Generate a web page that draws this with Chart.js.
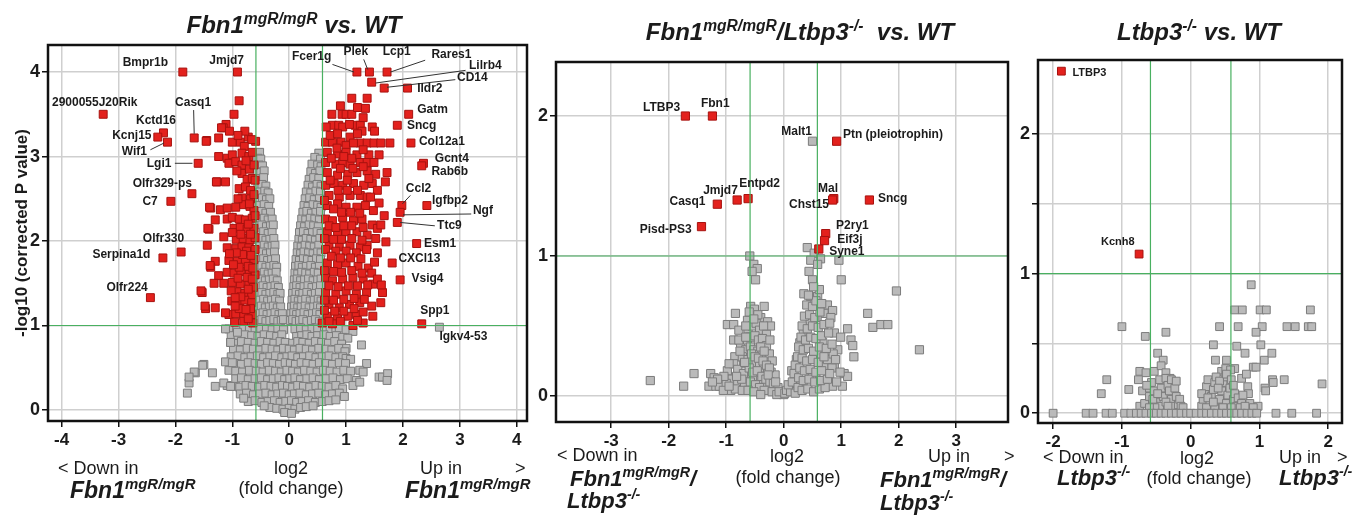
<!DOCTYPE html>
<html>
<head>
<meta charset="utf-8">
<script src="https://cdn.jsdelivr.net/npm/chart.js@4.4.1/dist/chart.umd.min.js"></script>
<style>
  body { margin: 0; background: #fff; }
  #wrap { position: relative; width: 1360px; height: 517px; overflow: hidden;
          font-family: "Liberation Sans", Arial, sans-serif; color: #1b1b1b; }
  canvas { position: absolute; top: 0; }
  .t { position: absolute; white-space: nowrap; line-height: 1; }
  .c { transform: translateX(-50%); }
  .title { font-size: 24px; font-weight: bold; font-style: italic; }
  .cap { font-size: 18px; }
  .gene { font-size: 22px; font-weight: bold; font-style: italic; }
  .big { font-size: 23px; }
  sup { font-size: 0.65em; vertical-align: 0.6em; line-height: 0; }
</style>
</head>
<body>
<div id="wrap">
  <canvas id="c1" width="540" height="460" style="left:0px"></canvas>
  <canvas id="c2" width="520" height="460" style="left:500px"></canvas>
  <canvas id="c3" width="360" height="460" style="left:1000px"></canvas>

  <div class="t c title" style="left:294px; top:13px">Fbn1<sup>mgR/mgR</sup> vs. WT</div>
  <div class="t c title" style="left:800px; top:20px">Fbn1<sup>mgR/mgR</sup>/Ltbp3<sup>-/-</sup>&nbsp; vs. WT</div>
  <div class="t c title" style="left:1199px; top:20px">Ltbp3<sup>-/-</sup> vs. WT</div>

  <!-- panel 1 captions -->
  <div class="t cap" style="left:58px; top:459px">&lt; Down in</div>
  <div class="t gene big" style="left:70px; top:479px">Fbn1<sup>mgR/mgR</sup></div>
  <div class="t c cap" style="left:291px; top:459px">log2</div>
  <div class="t c cap" style="left:291px; top:479px">(fold change)</div>
  <div class="t cap" style="left:420px; top:459px">Up in</div>
  <div class="t cap" style="left:515px; top:459px">&gt;</div>
  <div class="t gene big" style="left:405px; top:479px">Fbn1<sup>mgR/mgR</sup></div>

  <!-- panel 2 captions -->
  <div class="t cap" style="left:557px; top:446px">&lt; Down in</div>
  <div class="t gene" style="left:570px; top:468px">Fbn1<sup>mgR/mgR</sup>/</div>
  <div class="t gene" style="left:567px; top:490px">Ltbp3<sup>-/-</sup></div>
  <div class="t c cap" style="left:787px; top:447px">log2</div>
  <div class="t c cap" style="left:788px; top:468px">(fold change)</div>
  <div class="t cap" style="left:928px; top:447px">Up in</div>
  <div class="t cap" style="left:1004px; top:447px">&gt;</div>
  <div class="t gene" style="left:880px; top:469px">Fbn1<sup>mgR/mgR</sup>/</div>
  <div class="t gene" style="left:880px; top:492px">Ltbp3<sup>-/-</sup></div>

  <!-- panel 3 captions -->
  <div class="t cap" style="left:1043px; top:448px">&lt; Down in</div>
  <div class="t gene" style="left:1057px; top:467px">Ltbp3<sup>-/-</sup></div>
  <div class="t c cap" style="left:1197px; top:449px">log2</div>
  <div class="t c cap" style="left:1199px; top:469px">(fold change)</div>
  <div class="t cap" style="left:1279px; top:448px">Up in</div>
  <div class="t cap" style="left:1337px; top:448px">&gt;</div>
  <div class="t gene" style="left:1279px; top:467px">Ltbp3<sup>-/-</sup></div>
</div>

<script>
"use strict";

// thresholds: |log2 FC| > 0.585 (1.5 fold) and -log10 P > 1
const FC_CUT = 0.585;
const P_CUT = 1;

// ---------- panel 1: Fbn1 mgR/mgR vs WT ----------
const xTicks1 = [-4, -3, -2, -1, 0, 1, 2, 3, 4];
const yTicks1 = [0, 1, 2, 3, 4];

const red1 = [
  [-1.87,4.0],[-0.91,4.0],[-3.27,3.5],[-1.67,3.22],[-2.21,3.28],[-2.31,3.23],[-2.14,3.17],[-1.6,2.92],
  [-1.71,2.56],[-2.08,2.47],[-1.9,1.87],[-2.22,1.8],[-2.44,1.33],
  [1.19,4.0],[1.41,4.0],[1.72,4.0],[1.45,3.88],[1.67,3.81],[2.08,3.81],[2.1,3.5],[1.9,3.37],[2.14,3.16],
  [2.36,2.92],[2.33,2.89],[1.98,2.42],[2.42,2.42],[1.95,2.34],[1.9,2.22],[2.24,1.97],[1.81,1.74],
  [1.95,1.54],[2.33,1.02],
  // down-regulated cloud
  [-0.88,3.66],[-0.97,3.5],[-1.11,3.38],[-1.16,3.34],[-1.45,3.19],[-1.24,3.22],[-1.0,3.17],[-0.86,3.17],
  [-0.72,3.23],[-0.59,3.18],[-0.66,3.2],[-0.79,3.12],[-1.24,3.0],[-1.09,2.98],[-1.0,3.02],[-0.83,3.04],
  [-0.71,3.0],[-1.06,2.92],[-0.94,2.94],[-0.83,2.9],[-0.83,2.8],[-1.27,2.7],[-1.12,2.7],[-0.74,2.73],
  [-0.65,2.74],[-0.6,2.72],[-0.88,2.62],[-0.77,2.64],[-0.68,2.6],[-0.83,2.51],[-0.68,2.5],[-0.62,2.55],
  [-1.38,2.39],[-1.21,2.37],[-1.09,2.39],[-0.94,2.4],[-0.8,2.43],[-0.69,2.41],[-0.62,2.36],[-1.09,2.26],
  [-1.0,2.28],[-0.88,2.26],[-0.77,2.25],[-0.65,2.27],[-0.6,2.3],[-1.41,2.14],[-0.97,2.15],[-0.86,2.16],
  [-0.74,2.14],[-0.62,2.15],[-0.93,2.02],[-0.81,2.03],[-0.69,2.01],[-0.6,2.04],[-1.44,1.95],[-1.09,1.92],
  [-0.94,1.91],[-0.83,1.93],[-0.71,1.92],[-0.6,1.9],[-1.3,1.76],[-1.06,1.77],[-0.91,1.76],[-0.77,1.75],
  [-0.62,1.78],[-1.38,1.69],[-1.24,1.59],[-1.09,1.63],[-0.97,1.62],[-0.85,1.64],[-0.7,1.63],[-0.6,1.6],
  [-1.32,1.5],[-1.15,1.5],[-1.0,1.51],[-0.86,1.49],[-0.71,1.5],[-0.63,1.45],[-1.53,1.39],[-0.92,1.4],
  [-0.78,1.38],[-0.66,1.36],[-1.47,1.2],[-1.3,1.21],[-1.01,1.29],[-0.87,1.28],[-0.78,1.3],[-0.66,1.27],
  [-1.06,1.13],[-0.94,1.14],[-0.8,1.12],[-0.65,1.13],[-0.96,1.04],[-0.8,1.05],[-0.64,1.03],[-0.72,1.08],
  [-0.88,1.2],[-1.12,1.15],[-1.4,2.4],[-1.43,2.15],[-1.28,2.7],[-1.19,3.34],[-1.46,3.18],[-1.39,1.71],
  [-1.55,1.41],[-1.48,1.23],[-0.75,1.88],[-0.67,1.83],[-0.82,1.84],[-0.93,1.86],[-0.72,1.7],[-0.88,1.69],
  [-0.64,1.68],[-0.98,1.72],[-0.7,2.85],[-0.62,2.9],[-0.76,2.95],[-0.92,2.83],[-0.72,2.2],[-0.85,2.08],
  [-0.68,2.08],[-1.0,2.1],[-0.74,1.57],[-0.9,1.56],[-0.65,1.55],[-1.02,1.41],[-0.72,1.43],[-0.85,1.34],
  [-0.95,1.33],[-0.68,1.2],[-0.76,1.19],[-0.95,1.23],[-1.05,1.85],[-1.15,2.05],[-1.3,2.25],[-0.78,3.3],
  [-0.9,3.25],[-1.05,3.3],[-0.65,3.05],[-0.7,2.44],[-0.9,2.5],
  // up-regulated cloud
  [1.10,3.69],[1.37,3.69],[1.34,3.57],[0.75,3.5],[0.93,3.5],[1.0,3.5],[1.1,3.5],[0.76,3.37],[0.87,3.37],
  [0.94,3.35],[1.16,3.37],[1.25,3.37],[1.46,3.35],[1.5,3.3],[1.28,3.3],[1.07,3.23],[0.64,3.17],[0.76,3.17],
  [0.91,3.17],[1.0,3.13],[1.25,3.16],[1.37,3.16],[1.49,3.16],[1.61,3.16],[1.77,3.16],[1.13,3.16],
  [0.67,3.05],[0.85,3.03],[1.0,3.05],[1.19,3.02],[1.4,3.02],[1.58,3.02],[0.64,2.93],[0.82,2.91],
  [0.94,2.93],[1.07,2.91],[1.25,2.93],[1.37,2.93],[1.49,2.93],[0.67,2.81],[0.85,2.78],[1.03,2.79],
  [1.19,2.81],[1.37,2.83],[1.52,2.79],[1.72,2.81],[1.69,2.7],[0.64,2.66],[0.79,2.68],[0.94,2.66],
  [1.13,2.68],[1.31,2.66],[1.46,2.68],[0.7,2.54],[0.88,2.52],[1.07,2.54],[1.25,2.54],[1.37,2.52],
  [0.67,2.42],[0.85,2.44],[1.0,2.4],[1.19,2.4],[1.34,2.42],[1.48,2.36],[1.67,2.3],[0.64,2.26],[0.76,2.24],
  [0.94,2.28],[1.13,2.24],[1.28,2.26],[1.46,2.19],[1.55,2.15],[1.61,2.19],[0.67,2.11],[0.85,2.09],
  [1.0,2.11],[1.19,2.11],[1.37,2.07],[1.52,2.03],[1.7,1.99],[0.7,1.95],[0.88,1.93],[1.07,1.95],
  [1.25,1.93],[1.37,1.95],[0.64,1.9],[0.82,1.88],[1.0,1.88],[1.18,1.86],[1.36,1.9],[1.55,1.86],
  [0.67,1.74],[0.85,1.72],[1.0,1.74],[1.21,1.7],[1.39,1.68],[0.64,1.57],[0.76,1.53],[0.94,1.55],
  [1.12,1.57],[1.3,1.55],[1.47,1.49],[1.64,1.39],[1.61,1.27],[0.64,1.39],[0.82,1.37],[1.0,1.41],
  [1.18,1.37],[1.36,1.39],[0.7,1.25],[0.88,1.21],[1.06,1.25],[1.24,1.27],[1.45,1.23],[1.47,1.11],
  [0.67,1.11],[0.85,1.09],[1.03,1.11],[1.18,1.13],[0.58,1.03],[0.76,1.02],[1.12,1.0],[1.3,1.03],
  [0.72,3.25],[0.84,3.1],[0.96,3.0],[1.1,2.98],[1.3,3.08],[0.74,2.98],[0.9,2.86],[1.12,2.86],[1.3,2.88],
  [0.72,2.72],[0.86,2.6],[1.02,2.6],[1.2,2.6],[0.62,2.48],[0.78,2.38],[0.92,2.34],[1.08,2.34],[1.24,2.33],
  [0.7,2.18],[0.82,2.16],[0.96,2.18],[1.1,2.18],[1.3,2.16],[0.62,2.03],[0.78,2.02],[0.92,2.02],[1.1,2.03],
  [1.28,2.01],[0.74,1.82],[0.9,1.8],[1.08,1.8],[1.26,1.79],[0.62,1.65],[0.78,1.64],[0.92,1.63],[1.1,1.65],
  [1.28,1.62],[1.45,1.62],[0.7,1.47],[0.86,1.46],[1.04,1.47],[1.2,1.47],[1.38,1.48],[0.62,1.3],[0.78,1.3],
  [0.96,1.31],[1.14,1.32],[1.32,1.31],[0.62,1.18],[0.8,1.17],[0.96,1.17],[1.14,1.2],[1.3,1.16],[0.7,1.05],
  [0.9,1.05],[1.2,1.06],[0.65,3.35],[0.85,3.27],[1.2,3.27],[1.06,3.38],[0.9,3.6],[1.2,3.58],[1.3,3.46],
  [1.02,2.72],[1.4,2.74],[1.55,2.6],[1.58,2.45],[1.43,2.52],[1.5,1.75],[1.55,1.55],[1.62,1.48]
];

const gray1 = [
  [-0.52,3.05],[0.52,3.04],[-0.55,2.98],[-0.5,2.97],[0.45,2.99],[0.55,2.97],
  [-0.53,2.9],[-0.47,2.89],[0.4,2.91],[0.5,2.9],[0.56,2.88],
  [-0.56,2.82],[-0.5,2.81],[-0.44,2.83],[0.38,2.82],[0.46,2.8],[0.54,2.83],
  [-0.54,2.74],[-0.45,2.75],[0.35,2.73],[0.43,2.75],[0.52,2.74],
  [-0.55,2.66],[-0.48,2.67],[-0.41,2.65],[0.33,2.66],[0.41,2.64],[0.49,2.67],[0.56,2.65],
  [-0.52,2.58],[-0.43,2.59],[-0.37,2.57],[0.3,2.58],[0.38,2.57],[0.47,2.59],[0.55,2.58],
  [-0.56,2.5],[-0.47,2.51],[-0.4,2.49],[-0.34,2.5],[0.28,2.5],[0.36,2.51],[0.44,2.49],[0.53,2.5],
  [-0.53,2.42],[-0.44,2.43],[-0.36,2.41],[0.26,2.42],[0.33,2.41],[0.42,2.43],[0.5,2.42],[0.56,2.4],
  [-0.55,2.34],[-0.49,2.35],[-0.41,2.33],[-0.33,2.34],[0.24,2.34],[0.31,2.35],[0.39,2.33],[0.47,2.34],[0.55,2.35],
  [-0.52,2.26],[-0.44,2.27],[-0.37,2.25],[-0.3,2.26],[0.22,2.26],[0.29,2.25],[0.37,2.27],[0.45,2.26],[0.53,2.25],
  [-0.56,2.18],[-0.48,2.19],[-0.4,2.17],[-0.33,2.18],[-0.28,2.19],[0.2,2.18],[0.27,2.17],[0.35,2.19],[0.43,2.18],[0.51,2.17],
  [-0.53,2.1],[-0.45,2.11],[-0.37,2.09],[-0.3,2.1],[0.18,2.1],[0.25,2.11],[0.33,2.09],[0.41,2.1],[0.49,2.11],[0.56,2.09],
  [-0.55,2.02],[-0.49,2.03],[-0.41,2.01],[-0.34,2.02],[-0.27,2.03],[0.17,2.02],[0.23,2.01],[0.3,2.03],[0.38,2.02],[0.46,2.01],[0.54,2.03],
  [-0.52,1.94],[-0.44,1.95],[-0.37,1.93],[-0.3,1.94],[-0.25,1.95],[0.15,1.94],[0.21,1.93],[0.28,1.95],[0.36,1.94],[0.44,1.93],[0.52,1.95],
  [-0.56,1.86],[-0.47,1.87],[-0.4,1.85],[-0.33,1.86],[-0.26,1.87],[0.14,1.86],[0.2,1.85],[0.26,1.87],[0.34,1.86],[0.42,1.85],[0.5,1.87],[0.56,1.86],
  [-0.53,1.78],[-0.45,1.79],[-0.38,1.77],[-0.31,1.78],[-0.24,1.79],[0.12,1.78],[0.18,1.77],[0.25,1.79],[0.32,1.78],[0.4,1.77],[0.48,1.79],[0.55,1.78],
  [-0.55,1.7],[-0.48,1.71],[-0.41,1.69],[-0.34,1.7],[-0.27,1.71],[-0.22,1.69],[0.11,1.7],[0.17,1.71],[0.23,1.69],[0.3,1.7],[0.38,1.71],[0.46,1.69],[0.53,1.7],
  [-0.52,1.62],[-0.44,1.63],[-0.37,1.61],[-0.3,1.62],[-0.23,1.63],[0.1,1.62],[0.15,1.61],[0.22,1.63],[0.29,1.62],[0.36,1.61],[0.44,1.63],[0.51,1.62],
  [-0.56,1.54],[-0.49,1.55],[-0.42,1.53],[-0.35,1.54],[-0.28,1.55],[-0.21,1.53],[0.09,1.54],[0.14,1.55],[0.2,1.53],[0.27,1.54],[0.34,1.55],[0.42,1.53],[0.5,1.54],[0.56,1.55],
  [-0.53,1.46],[-0.46,1.47],[-0.39,1.45],[-0.32,1.46],[-0.25,1.47],[-0.19,1.45],[0.08,1.46],[0.13,1.47],[0.19,1.45],[0.26,1.46],[0.33,1.47],[0.4,1.45],[0.48,1.46],[0.55,1.47],
  [-0.55,1.38],[-0.48,1.39],[-0.41,1.37],[-0.34,1.38],[-0.27,1.39],[-0.2,1.37],[-0.16,1.38],[0.06,1.38],[0.12,1.39],[0.18,1.37],[0.24,1.38],[0.31,1.39],[0.39,1.37],[0.46,1.38],[0.53,1.39],
  [-0.52,1.3],[-0.45,1.31],[-0.38,1.29],[-0.31,1.3],[-0.24,1.31],[-0.17,1.29],[0.05,1.3],[0.1,1.31],[0.16,1.29],[0.22,1.3],[0.29,1.31],[0.37,1.29],[0.44,1.3],[0.51,1.31],[0.56,1.29],
  [-0.56,1.22],[-0.49,1.23],[-0.42,1.21],[-0.35,1.22],[-0.28,1.23],[-0.21,1.21],[-0.15,1.22],[0.04,1.22],[0.09,1.23],[0.15,1.21],[0.21,1.22],[0.28,1.23],[0.35,1.21],[0.43,1.22],[0.5,1.23],[0.55,1.21],
  [-0.53,1.14],[-0.46,1.15],[-0.39,1.13],[-0.32,1.14],[-0.25,1.15],[-0.18,1.13],[-0.12,1.14],[0.03,1.14],[0.08,1.15],[0.13,1.13],[0.19,1.14],[0.26,1.15],[0.33,1.13],[0.41,1.14],[0.48,1.15],[0.54,1.13],
  [-0.55,1.06],[-0.48,1.07],[-0.41,1.05],[-0.34,1.06],[-0.27,1.07],[-0.2,1.05],[-0.14,1.06],[-0.1,1.07],[0.02,1.06],[0.06,1.07],[0.12,1.05],[0.18,1.06],[0.24,1.07],[0.31,1.05],[0.39,1.06],[0.46,1.07],[0.53,1.05],
  [-1.06,0.96],[-0.92,0.95],[-0.8,0.97],[-0.7,0.96],[-0.6,0.95],[-0.5,0.97],[-0.4,0.96],[-0.3,0.95],[-0.2,0.97],[-0.1,0.95],
  [0.1,0.96],[0.2,0.97],[0.3,0.95],[0.4,0.96],[0.5,0.97],[0.62,0.95],[0.72,0.96],[0.82,0.94],[0.88,0.97],[1.0,0.95],[1.12,0.93],
  [-1.02,0.88],[-0.9,0.87],[-0.78,0.89],[-0.66,0.88],[-0.55,0.87],[-0.44,0.89],[-0.33,0.88],[-0.22,0.87],[-0.13,0.89],
  [0.13,0.87],[0.22,0.88],[0.31,0.89],[0.4,0.87],[0.5,0.88],[0.61,0.89],[0.72,0.87],[0.83,0.88],[0.94,0.86],[1.03,0.85],
  [-1.03,0.8],[-0.94,0.79],[-0.84,0.81],[-0.72,0.8],[-0.6,0.79],[-0.49,0.81],[-0.38,0.8],[-0.27,0.79],[-0.16,0.81],[-0.07,0.8],
  [0.06,0.79],[0.15,0.81],[0.24,0.8],[0.35,0.79],[0.46,0.81],[0.57,0.8],[0.69,0.79],[0.8,0.81],[0.92,0.78],[1.0,0.73],[1.27,0.77],
  [-0.98,0.72],[-0.86,0.71],[-0.74,0.73],[-0.63,0.72],[-0.52,0.71],[-0.41,0.73],[-0.3,0.72],[-0.2,0.71],[-0.1,0.73],[0.0,0.72],
  [0.09,0.71],[0.19,0.73],[0.3,0.72],[0.41,0.71],[0.52,0.73],[0.64,0.72],[0.75,0.71],[0.87,0.73],[0.98,0.69],[-0.82,0.61],
  [-1.02,0.63],[-0.9,0.64],[-0.78,0.62],[-0.67,0.63],[-0.56,0.64],[-0.45,0.62],[-0.34,0.63],[-0.24,0.64],[-0.13,0.62],[-0.04,0.63],
  [0.05,0.64],[0.15,0.62],[0.25,0.63],[0.36,0.64],[0.47,0.62],[0.58,0.63],[0.7,0.64],[0.82,0.62],[0.94,0.63],[1.0,0.61],[1.08,0.6],
  [-1.12,0.57],[-0.96,0.55],[-0.84,0.54],[-0.72,0.56],[-0.6,0.55],[-0.49,0.54],[-0.38,0.56],[-0.28,0.55],[-0.17,0.54],[-0.07,0.56],
  [0.02,0.55],[0.11,0.54],[0.21,0.56],[0.31,0.55],[0.42,0.54],[0.53,0.56],[0.64,0.55],[0.76,0.54],[0.88,0.56],[0.99,0.55],[1.36,0.55],
  [-1.06,0.47],[-0.94,0.46],[-0.82,0.45],[-0.7,0.47],[-0.58,0.46],[-0.46,0.45],[-0.35,0.47],[-0.24,0.46],[-0.14,0.45],[-0.04,0.47],
  [0.06,0.46],[0.16,0.45],[0.27,0.47],[0.38,0.46],[0.49,0.45],[0.6,0.47],[0.72,0.46],[0.84,0.45],[0.96,0.47],[1.08,0.46],[1.24,0.47],[1.3,0.45],
  [-0.94,0.37],[-0.84,0.38],[-0.72,0.36],[-0.6,0.37],[-0.49,0.38],[-0.38,0.36],[-0.28,0.37],[-0.18,0.38],[-0.08,0.36],[0.01,0.37],
  [0.1,0.38],[0.2,0.36],[0.31,0.37],[0.42,0.38],[0.53,0.36],[0.65,0.37],[0.77,0.38],[0.9,0.36],[1.02,0.37],[1.18,0.35],
  [1.58,0.39],[1.64,0.39],[1.73,0.43],[1.72,0.35],
  [-1.09,0.29],[-0.98,0.28],[-0.87,0.27],[-0.76,0.29],[-0.65,0.28],[-0.54,0.27],[-0.43,0.29],[-0.32,0.28],[-0.22,0.27],[-0.12,0.29],
  [-0.03,0.28],[0.06,0.27],[0.15,0.29],[0.25,0.28],[0.36,0.27],[0.47,0.29],[0.58,0.28],[0.7,0.27],[0.82,0.29],[0.94,0.25],[1.12,0.29],[1.24,0.33],
  [-0.86,0.19],[-0.75,0.2],[-0.63,0.18],[-0.52,0.19],[-0.41,0.2],[-0.3,0.18],[-0.2,0.19],[-0.1,0.2],[0.0,0.18],
  [0.09,0.19],[0.19,0.2],[0.3,0.18],[0.41,0.19],[0.52,0.2],[0.64,0.18],[0.76,0.19],[0.88,0.2],[0.97,0.16],
  [-0.72,0.1],[-0.6,0.11],[-0.48,0.09],[-0.37,0.1],[-0.26,0.11],[-0.16,0.09],[-0.06,0.1],[0.04,0.11],[0.13,0.09],
  [0.23,0.1],[0.34,0.11],[0.46,0.09],[0.58,0.1],[0.7,0.11],[-0.8,0.14],[0.82,0.12],
  [-0.34,0.03],[-0.22,0.02],[-0.11,0.01],[0.0,0.02],[0.1,0.01],[0.2,0.03],[0.3,0.04],[-0.44,0.05],[0.42,0.05],
  [-0.08,-0.03],[0.04,-0.04],
  [-1.5,0.54],[-1.65,0.44],[-1.35,0.44],[-1.76,0.32],[-1.79,0.2],[-1.3,0.28],[-1.52,0.53],[-1.67,0.45],
  [-1.76,0.39],[-1.15,0.32],[-1.03,0.28],[-1.12,0.96],[-1.03,0.8],[-0.91,0.92],[-1.0,0.56],[2.64,0.98]
];

const notes1 = [
  {t:'Bmpr1b', x:-2.13, y:4.11, a:'right'},
  {t:'Jmjd7', x:-1.1, y:4.13, a:'center'},
  {t:'2900055J20Rik', x:-4.17, y:3.64, a:'left'},
  {t:'Casq1', x:-1.69, y:3.64, a:'center', line:[-1.68,3.55,-1.67,3.27]},
  {t:'Kctd16', x:-1.99, y:3.43, a:'right'},
  {t:'Kcnj15', x:-2.42, y:3.25, a:'right'},
  {t:'Wif1', x:-2.5, y:3.06, a:'right', line:[-2.44,3.08,-2.2,3.16]},
  {t:'Lgi1', x:-2.07, y:2.92, a:'right', line:[-2.01,2.92,-1.7,2.92]},
  {t:'Olfr329-ps', x:-2.23, y:2.68, a:'center'},
  {t:'C7', x:-2.31, y:2.47, a:'right'},
  {t:'Olfr330', x:-2.21, y:2.03, a:'center'},
  {t:'Serpina1d', x:-2.44, y:1.84, a:'right'},
  {t:'Olfr224', x:-2.85, y:1.45, a:'center'},
  {t:'Fcer1g', x:0.74, y:4.18, a:'right', line:[0.76,4.09,1.14,4.0]},
  {t:'Plek', x:1.17, y:4.24, a:'center', line:[1.31,4.15,1.38,4.03]},
  {t:'Lcp1', x:1.89, y:4.24, a:'center'},
  {t:'Rares1', x:2.5, y:4.21, a:'left', line:[2.39,4.14,1.78,4.0]},
  {t:'Lilrb4', x:3.16, y:4.08, a:'left', line:[3.1,4.02,1.52,3.87]},
  {t:'CD14', x:2.95, y:3.93, a:'left', line:[2.92,3.91,1.72,3.82]},
  {t:'Ildr2', x:2.25, y:3.8, a:'left'},
  {t:'Gatm', x:2.25, y:3.56, a:'left'},
  {t:'Sncg', x:2.07, y:3.36, a:'left'},
  {t:'Col12a1', x:2.28, y:3.17, a:'left'},
  {t:'Gcnt4', x:2.56, y:2.98, a:'left'},
  {t:'Rab6b', x:2.5, y:2.82, a:'left'},
  {t:'Ccl2', x:2.05, y:2.62, a:'left', line:[2.13,2.54,1.99,2.44]},
  {t:'Igfbp2', x:2.51, y:2.48, a:'left'},
  {t:'Ngf', x:3.23, y:2.36, a:'left', line:[3.2,2.32,2.0,2.31]},
  {t:'Ttc9', x:2.6, y:2.18, a:'left', line:[2.56,2.18,1.95,2.22]},
  {t:'Esm1', x:2.37, y:1.97, a:'left'},
  {t:'CXCl13', x:1.92, y:1.79, a:'left'},
  {t:'Vsig4', x:2.15, y:1.55, a:'left'},
  {t:'Spp1', x:2.56, y:1.17, a:'center'},
  {t:'Igkv4-53', x:2.64, y:0.87, a:'left'}
];

// ---------- panel 2: Fbn1 mgR/mgR / Ltbp3 -/- vs WT ----------
const xTicks2 = [-3, -2, -1, 0, 1, 2, 3];
const yTicks2 = [0, 1, 2];

const red2 = [
  [-1.71,2.0],[-1.24,2.0],[0.92,1.82],[-1.155,1.37],[-0.81,1.40],[-0.62,1.41],[0.87,1.41],[0.85,1.4],
  [1.49,1.40],[-1.43,1.21],[0.73,1.16],[0.71,1.11],[0.61,1.05]
];

const gray2 = [
  [0.5,1.82],[0.41,1.06],[-0.59,1.0],
  [-2.32,0.11],[-1.74,0.07],[-1.56,0.16],[-1.27,0.16],[-1.21,0.13],[-1.30,0.07],[-1.18,0.07],[-1.09,0.11],
  [-0.98,0.18],[-0.87,0.09],[-0.75,0.07],[-1.12,0.07],[-0.52,0.94],[-0.46,0.91],[-0.55,0.89],[-0.49,0.83],
  [-0.575,0.64],[-0.51,0.62],[-0.34,0.64],[-0.84,0.59],[-0.98,0.51],[-0.87,0.51],[-0.78,0.47],[-0.63,0.54],
  [-0.40,0.56],[-0.28,0.53],[-0.23,0.5],[-0.87,0.4],[-0.75,0.35],[-0.63,0.4],[-0.85,0.28],[-0.87,0.23],
  [-0.70,0.23],[-0.63,0.16],[-0.52,0.14],[-0.40,0.11],[-0.28,0.07],[-0.17,0.05],[-0.05,0.02],[0.0,0.01],
  [0.53,1.02],[0.47,0.97],[0.64,0.98],[0.96,0.97],[0.44,0.89],[0.59,0.94],[0.5,0.83],[1.0,0.83],[1.96,0.75],
  [0.35,0.73],[0.47,0.71],[0.59,0.71],[0.76,0.65],[0.85,0.61],[1.46,0.59],[1.55,0.49],[1.69,0.51],[1.81,0.51],
  [1.11,0.48],[1.17,0.4],[1.2,0.36],[2.36,0.33],[1.22,0.28],[1.05,0.16],[1.11,0.14],[0.85,0.07],[1.02,0.07],
  [0.7,0.59],[0.82,0.56],[0.88,0.45],[0.99,0.42],[0.94,0.33],[0.82,0.27],[0.7,0.21],[0.88,0.21],
  [-0.62,0.48],[-0.55,0.5],[-0.48,0.52],[-0.42,0.47],[-0.35,0.5],[-0.3,0.44],[-0.58,0.42],[-0.5,0.43],
  [-0.44,0.4],[-0.37,0.41],[-0.3,0.36],[-0.24,0.4],[-0.66,0.33],[-0.58,0.35],[-0.52,0.33],[-0.45,0.32],
  [-0.38,0.3],[-0.32,0.28],[-0.25,0.3],[-0.2,0.25],[-0.72,0.28],[-0.62,0.26],[-0.55,0.25],[-0.48,0.24],
  [-0.42,0.22],[-0.35,0.2],[-0.28,0.2],[-0.22,0.17],[-0.15,0.15],[-0.8,0.19],[-0.7,0.16],[-0.6,0.2],
  [-0.54,0.17],[-0.46,0.18],[-0.38,0.14],[-0.31,0.12],[-0.24,0.1],[-0.18,0.09],[-0.1,0.06],[-0.9,0.12],
  [-0.8,0.1],[-0.68,0.09],[-0.58,0.1],[-0.49,0.08],[-0.42,0.06],[-0.34,0.04],[-0.2,0.03],[-1.0,0.09],
  [-0.92,0.04],[-0.84,0.05],[-0.72,0.04],[-0.62,0.04],[-0.52,0.03],[-0.4,0.01],[-0.12,0.01],[-0.45,0.58],
  [-0.6,0.6],[-0.52,0.55],[-0.66,0.5],[-0.78,0.4],[-0.73,0.12],[-0.95,0.23],[-1.04,0.14],
  [-0.56,0.3],[-0.5,0.28],[-0.44,0.27],[-0.36,0.25],[-0.3,0.22],[-0.25,0.2],[-0.66,0.42],[-0.4,0.35],
  [-0.34,0.32],[-0.27,0.15],[-0.14,0.1],[-0.08,0.03],[0.02,0.02],[0.1,0.06],[0.14,0.18],[0.22,0.26],
  [0.28,0.38],[0.34,0.46],[0.46,0.52],[0.58,0.56],[0.68,0.38],[0.76,0.26],[0.84,0.2],[0.3,0.1],[0.48,0.14],
  [0.58,0.3],[0.86,0.3],[-0.68,0.24],[-0.76,0.32],[-0.82,0.14],[-1.15,0.12],[-1.24,0.1],[-1.05,0.04],[-0.95,0.07],
  [0.05,0.04],[0.12,0.03],[0.2,0.02],[0.08,0.08],[0.15,0.1],[0.25,0.06],[0.32,0.04],[0.42,0.05],[0.52,0.03],
  [0.62,0.05],[0.72,0.06],[0.18,0.16],[0.26,0.13],[0.34,0.11],[0.44,0.12],[0.54,0.1],[0.64,0.11],[0.76,0.12],
  [0.92,0.1],[0.2,0.22],[0.28,0.2],[0.36,0.18],[0.46,0.19],[0.56,0.17],[0.66,0.18],[0.8,0.16],[0.98,0.17],
  [0.24,0.28],[0.32,0.27],[0.4,0.25],[0.5,0.26],[0.6,0.24],[0.7,0.28],[0.9,0.26],[0.26,0.35],[0.34,0.33],
  [0.43,0.34],[0.52,0.32],[0.62,0.35],[0.74,0.34],[0.84,0.37],[0.3,0.42],[0.38,0.4],[0.47,0.42],[0.56,0.41],
  [0.66,0.43],[0.78,0.45],[0.32,0.5],[0.41,0.48],[0.5,0.5],[0.6,0.49],[0.7,0.51],[0.8,0.52],[0.36,0.57],
  [0.45,0.58],[0.54,0.56],[0.63,0.6],[0.4,0.65],[0.5,0.64],[0.56,0.68],[0.66,0.66],[0.43,0.72],[0.62,0.76],[0.52,0.78]
];

const notes2 = [
  {t:'LTBP3', x:-1.8, y:2.06, a:'right'},
  {t:'Fbn1', x:-1.19, y:2.09, a:'center'},
  {t:'Malt1', x:0.49, y:1.89, a:'right'},
  {t:'Ptn (pleiotrophin)', x:1.03, y:1.87, a:'left'},
  {t:'Entpd2', x:-0.42, y:1.52, a:'center'},
  {t:'Jmjd7', x:-1.1, y:1.47, a:'center'},
  {t:'Casq1', x:-1.36, y:1.39, a:'right'},
  {t:'Mal', x:0.77, y:1.48, a:'center'},
  {t:'Chst15', x:0.44, y:1.37, a:'center'},
  {t:'Sncg', x:1.64, y:1.41, a:'left'},
  {t:'Pisd-PS3', x:-1.6, y:1.19, a:'right'},
  {t:'P2ry1', x:0.91, y:1.22, a:'left'},
  {t:'Eif3j', x:0.93, y:1.12, a:'left'},
  {t:'Syne1', x:0.79, y:1.03, a:'left'}
];

// ---------- panel 3: Ltbp3 -/- vs WT ----------
const xTicks3 = [-2, -1, 0, 1, 2];
const yTicks3 = [0, 0.5, 1, 1.5, 2];

const red3 = [[-1.88,2.45],[-0.75,1.14]];

const gray3 = [
  [0.88,0.92],[0.64,0.74],[0.75,0.74],[1.01,0.74],[1.1,0.74],[1.74,0.74],[-1.0,0.62],[0.42,0.62],[0.69,0.62],
  [1.04,0.62],[1.4,0.62],[1.52,0.62],[1.71,0.62],[1.76,0.62],[-0.66,0.55],[-0.36,0.58],[0.95,0.58],[0.33,0.49],
  [0.67,0.48],[1.02,0.49],[-0.48,0.43],[-0.4,0.38],[0.36,0.38],[0.52,0.38],[0.79,0.43],[1.07,0.38],[1.18,0.43],
  [0.64,0.32],[0.91,0.33],[0.95,0.33],[-0.74,0.3],[-0.65,0.29],[-0.53,0.3],[-0.43,0.34],[-0.36,0.29],[-0.3,0.25],
  [0.45,0.3],[0.51,0.32],[0.58,0.31],[-1.22,0.24],[-1.3,0.14],[-0.9,0.17],[-0.76,0.24],[-0.7,0.16],[-0.6,0.18],
  [0.74,0.25],[0.81,0.28],[1.19,0.24],[1.2,0.22],[1.36,0.24],[1.08,0.18],[1.09,0.16],[1.91,0.21],[0.83,0.19],
  [0.84,0.14],[0.86,0.07],[0.98,0.05],[0.91,0.04],
  [-0.74,0.05],[-0.67,0.07],[-0.6,0.12],[-0.57,0.22],[-0.53,0.16],[-0.5,0.08],[-0.45,0.24],[-0.43,0.18],
  [-0.4,0.12],[-0.38,0.05],[-0.36,0.25],[-0.33,0.2],[-0.31,0.16],[-0.28,0.1],[-0.26,0.05],[-0.23,0.18],
  [-0.21,0.12],[-0.18,0.06],[-0.16,0.1],[-0.14,0.05],[-0.11,0.04],[-0.45,0.05],[-0.52,0.04],[-0.6,0.04],
  [-0.36,0.08],[-0.28,0.24],[-0.21,0.23],[-0.33,0.05],[-0.55,0.1],[-0.48,0.14],[-0.64,0.2],
  [0.16,0.05],[0.18,0.1],[0.2,0.14],[0.23,0.19],[0.25,0.24],[0.28,0.07],[0.3,0.12],[0.33,0.17],[0.35,0.22],
  [0.37,0.26],[0.4,0.05],[0.42,0.1],[0.45,0.16],[0.47,0.22],[0.5,0.26],[0.52,0.07],[0.54,0.13],[0.57,0.18],
  [0.62,0.1],[0.64,0.14],[0.67,0.05],[0.69,0.11],[0.74,0.07],[0.76,0.13],[0.23,0.04],[0.35,0.04],[0.47,0.04],
  [0.59,0.04],[0.72,0.04],[0.79,0.05],[0.16,0.14],[0.25,0.11],[0.42,0.23],[0.52,0.28],[0.59,0.24],[0.62,0.2],
  [0.4,0.18],[0.33,0.08],
  [-2.0,0],[-1.52,0],[-1.42,0],[-1.23,0],[-1.14,0],[-0.96,0],[-0.87,0],[-0.79,0],[-0.72,0],[-0.65,0],[-0.57,0],
  [-0.5,0],[-0.43,0],[-0.36,0],[-0.28,0],[-0.21,0],[-0.14,0],[-0.06,0],[0.0,0],[0.08,0],[0.16,0],[0.23,0],
  [0.3,0],[0.38,0],[0.45,0],[0.52,0],[0.59,0],[0.67,0],[0.74,0],[0.82,0],[0.89,0],[0.96,0],[1.24,0],[1.47,0],[1.83,0]
];

const notes3 = [
  {t:'LTBP3', x:-1.72, y:2.44, a:'left'},
  {t:'Kcnh8', x:-1.06, y:1.23, a:'center'}
];

// ---------- drawing ----------
const FONT = '"Liberation Sans", Arial, sans-serif';
Chart.defaults.font.family = FONT;
Chart.defaults.color = '#1b1b1b';

// green cut-off lines, black frame, gene labels
const notePlugin = {
  id: 'notes',
  afterDatasetsDraw(chart, args, opts) {
    const {ctx, chartArea: a, scales: {x, y}} = chart;
    ctx.save();
    ctx.strokeStyle = '#49b060';
    ctx.lineWidth = 1.2;
    ctx.beginPath();
    for (const v of [-FC_CUT, FC_CUT]) {
      const px = x.getPixelForValue(v);
      ctx.moveTo(px, a.top); ctx.lineTo(px, a.bottom);
    }
    const py = y.getPixelForValue(P_CUT);
    ctx.moveTo(a.left, py); ctx.lineTo(a.right, py);
    ctx.stroke();

    ctx.strokeStyle = '#111';
    ctx.lineWidth = 2.5;
    ctx.strokeRect(a.left, a.top, a.right - a.left, a.bottom - a.top);

    ctx.font = 'bold ' + opts.size + 'px ' + FONT;
    ctx.fillStyle = '#1b1b1b';
    ctx.textBaseline = 'middle';
    ctx.strokeStyle = '#333';
    ctx.lineWidth = 1;
    for (const n of opts.items) {
      ctx.textAlign = n.a;
      ctx.fillText(n.t, x.getPixelForValue(n.x), y.getPixelForValue(n.y));
      if (n.line) {
        ctx.beginPath();
        ctx.moveTo(x.getPixelForValue(n.line[0]), y.getPixelForValue(n.line[1]));
        ctx.lineTo(x.getPixelForValue(n.line[2]), y.getPixelForValue(n.line[3]));
        ctx.stroke();
      }
    }
    ctx.restore();
  }
};

function volcano(id, red, gray, cfg) {
  const pts = arr => arr.map(([x, y]) => ({x, y}));
  return new Chart(id, {
    type: 'scatter',
    data: {
      datasets: [
        { data: pts(red), backgroundColor: '#e3211d', borderColor: '#a8120f', borderWidth: 1,
          pointStyle: 'rect', pointRadius: cfg.r, pointHoverRadius: cfg.r },
        { data: pts(gray), backgroundColor: '#bababa', borderColor: '#7c7c7c', borderWidth: 1,
          pointStyle: 'rect', pointRadius: cfg.r, pointHoverRadius: cfg.r }
      ]
    },
    options: {
      responsive: false,
      animation: false,
      events: [],
      layout: { padding: cfg.pad },
      plugins: {
        legend: { display: false },
        tooltip: { enabled: false },
        notes: { items: cfg.notes, size: cfg.labelSize }
      },
      scales: {
        x: {
          type: 'linear', min: cfg.xr[0], max: cfg.xr[1],
          afterBuildTicks: s => { s.ticks = cfg.xTicks.map(v => ({value: v})); },
          afterFit: s => { s.height = 30; },
          border: { display: false },
          grid: { color: '#cfcfcf', lineWidth: 1.5, tickColor: '#111', tickLength: 6 },
          ticks: { font: { size: 17, weight: 'bold' }, color: '#1b1b1b', padding: 3, maxRotation: 0 }
        },
        y: {
          type: 'linear', min: cfg.yr[0], max: cfg.yr[1],
          afterBuildTicks: s => { s.ticks = cfg.yTicks.map(v => ({value: v})); },
          afterFit: s => { s.width = cfg.yw; },
          border: { display: false },
          grid: { color: '#cfcfcf', lineWidth: 1.5, tickColor: '#111', tickLength: 6 },
          ticks: { font: { size: 18, weight: 'bold' }, color: '#1b1b1b', padding: 2,
                   callback: v => Number.isInteger(v) ? String(v) : '' },
          title: { display: !!cfg.yTitle, text: cfg.yTitle || '', color: '#1b1b1b',
                   font: { size: 17, weight: 'bold' }, padding: { top: 12, bottom: 0 } }
        }
      }
    },
    plugins: [notePlugin]
  });
}

volcano('c1', red1, gray1, {
  xr: [-4.24, 4.18], yr: [-0.13, 4.32], xTicks: xTicks1, yTicks: yTicks1,
  notes: notes1, labelSize: 12, r: 5.6, yw: 48,
  pad: { left: 0, top: 45, right: 13, bottom: 9 },
  yTitle: '-log10 (corrected P value)'
});

volcano('c2', red2, gray2, {
  xr: [-3.96, 3.9], yr: [-0.186, 2.386], xTicks: xTicks2, yTicks: yTicks2,
  notes: notes2, labelSize: 12, r: 5.8, yw: 56,
  pad: { left: 0, top: 62, right: 12, bottom: 8 }
});

volcano('c3', red3, gray3, {
  xr: [-2.22, 2.2], yr: [-0.07, 2.53], xTicks: xTicks3, yTicks: yTicks3,
  notes: notes3, labelSize: 11, r: 5.5, yw: 38,
  pad: { left: 0, top: 60, right: 18, bottom: 7 }
});
</script>
</body>
</html>
